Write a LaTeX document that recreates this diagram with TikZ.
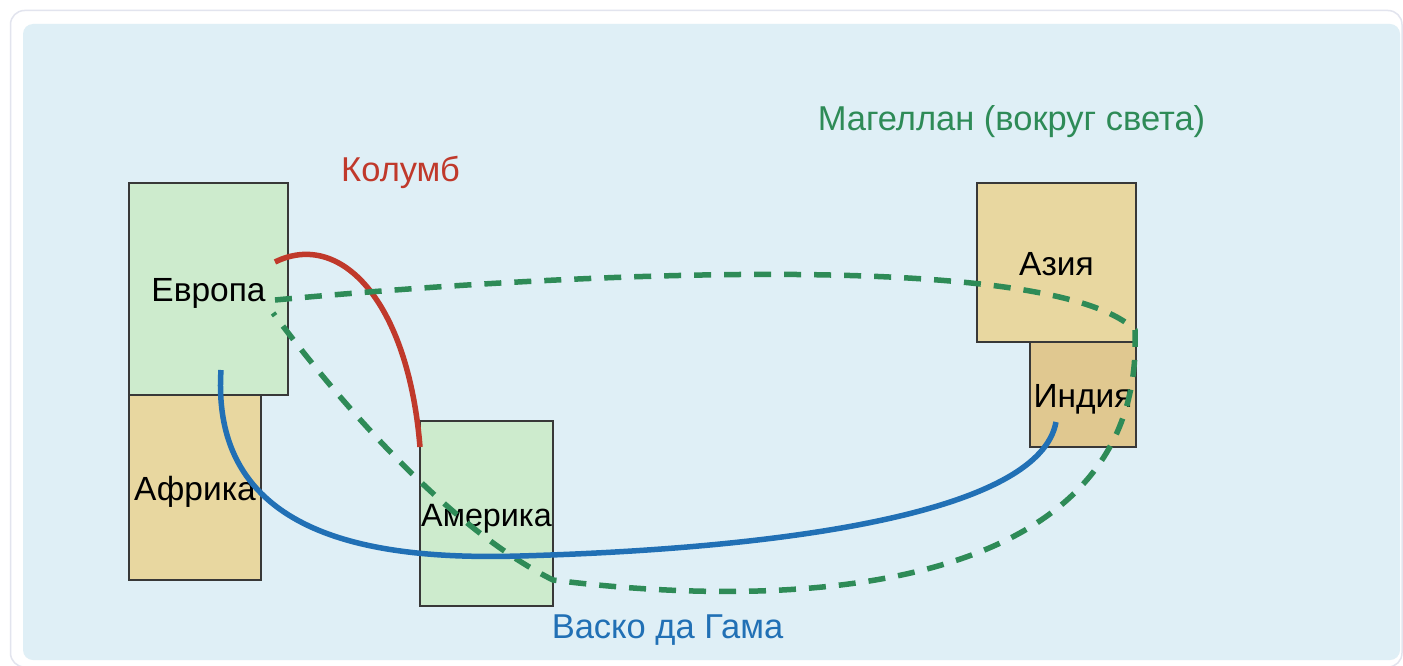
\documentclass[tikz,border=0pt]{standalone}
\usepackage{fontspec}
\setmainfont{Liberation Sans}
\definecolor{panel}{HTML}{DFEFF6}
\definecolor{frameline}{HTML}{E2E4EE}
\definecolor{boxedge}{HTML}{383838}
\definecolor{landgreen}{HTML}{CDEBCD}
\definecolor{landwheat}{HTML}{E8D7A0}
\definecolor{landindia}{HTML}{E0C890}
\definecolor{colred}{HTML}{C0392B}
\definecolor{colblue}{HTML}{2170B5}
\definecolor{colgreen}{HTML}{2E8B57}
\begin{document}
\begin{tikzpicture}[x=1pt,y=-1pt,
  region/.style={draw=boxedge, line width=2.5pt, inner sep=0pt, text height=25.6pt, text depth=0pt, font=\fontsize{33.5}{33.5}\selectfont},
  route/.style={line width=5.5pt},
  dashroute/.style={line width=5.5pt, dash pattern=on 17pt off 13pt},
  routelabel/.style={anchor=base, inner sep=0pt, font=\fontsize{34.5}{34.5}\selectfont}]
\useasboundingbox (0,0) rectangle (1403,666);
\clip (0,0) rectangle (1403,666);
\fill[white] (0,0) rectangle (1403,666);
\draw[frameline, line width=1.5pt, rounded corners=14pt] (10.5,10.5) rectangle (1402,667);
\fill[panel, rounded corners=10pt] (23,24) rectangle (1400,660);

% regions
\node[region, fill=landgreen, minimum width=159pt, minimum height=212pt] (eu) at (208.5,289) {Европа};
\node[region, fill=landwheat, minimum width=132pt, minimum height=185pt] (af) at (195,487.5) {Африка};
\node[region, fill=landgreen, minimum width=133pt, minimum height=185pt, font=\fontsize{32.3}{32.3}\selectfont] (am) at (486.5,513.5) {Америка};
\node[region, fill=landwheat, minimum width=159pt, minimum height=159pt] (as) at (1056.5,262.5) {Азия};
\node[region, fill=landindia, minimum width=106pt, minimum height=105pt] (in) at (1083,394.5) {Индия};

% route end points
\coordinate (redA) at (275,262);
\coordinate (redB) at (420,447);
\coordinate (bluA) at (221,370);
\coordinate (bluM) at (520,556);
\coordinate (bluB) at (1056,422);
\coordinate (grA) at (275,300);
\coordinate (grC) at (1135,330);
\coordinate (grD) at (553,580);
\coordinate (grE) at (273,313);

% routes
\draw[route, colred] (redA) .. controls (340,230) and (408,300) .. (redB);
\draw[dashroute, colgreen] (grA) .. controls (600,270) and (1055,252) .. (grC)
  .. controls (1145,580) and (830,615) .. (grD)
  .. controls (463,535) and (363,433) .. (grE);
\draw[route, colblue] (bluA) .. controls (210,540) and (380,560) .. (bluM)
  .. controls (800,548) and (1040,510) .. (bluB);

% labels
\node[routelabel, colred] (lcol) at (400.5,181) {Колумб};
\node[routelabel, colgreen] (lmag) at (1011.5,130.7) {Магеллан (вокруг света)};
\node[routelabel, colblue] (lvas) at (667.5,638.3) {Васко да Гама};
\end{tikzpicture}
\end{document}
